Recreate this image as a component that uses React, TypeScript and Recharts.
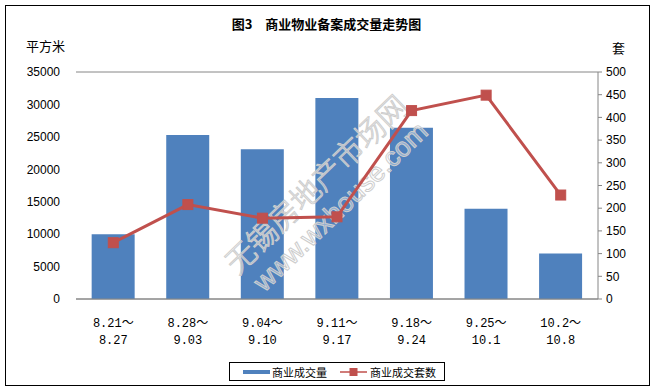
import React from 'react';
import { ComposedChart, Bar, Line, XAxis, YAxis, CartesianGrid } from 'recharts';

const weekStart = ['8.21～', '8.28～', '9.04～', '9.11～', '9.18～', '9.25～', '10.2～'];
const weekEnd = ['8.27', '9.03', '9.10', '9.17', '9.24', '10.1', '10.8'];
const areaValues = [10000, 25300, 23100, 31000, 26400, 13900, 7000];
const unitValues = [124, 208, 178, 181, 415, 449, 229];
const leftTicks = [0, 5000, 10000, 15000, 20000, 25000, 30000, 35000];
const rightTicks = [0, 50, 100, 150, 200, 250, 300, 350, 400, 450, 500];

const data = weekStart.map((s, i) => ({
  idx: i,
  area: areaValues[i],
  units: unitValues[i],
}));

const BLUE = '#4F81BD';
const RED = '#C0504D';
const GRID = '#868686';
const MONO = '"Liberation Mono", "Noto Sans CJK SC", monospace';
const SANS = '"Liberation Sans", Arial, sans-serif';
const CJK = '"Noto Sans CJK SC", sans-serif';

const MARGIN = { top: 72, right: 10, bottom: 30, left: 16 };

const XTick = (props: any) => {
  const { x, y, payload } = props;
  const i = payload.value;
  return (
    <g>
      <text x={x} y={y + 20} textAnchor="middle" fontSize={12} fontFamily={MONO} fill="#000">
        {weekStart[i]}
      </text>
      <text x={x} y={y + 37} textAnchor="middle" fontSize={12} fontFamily={MONO} fill="#000">
        {weekEnd[i]}
      </text>
    </g>
  );
};

const SquareDot = (props: any) => {
  const { cx, cy, index } = props;
  if (cx == null || cy == null) return null;
  return <rect key={index} x={cx - 5} y={cy - 5} width={10} height={10} fill={RED} stroke={RED} />;
};

const LegendBox = () => (
  <div
    style={{
      position: 'absolute',
      left: 229,
      top: 362,
      border: '1px solid #000',
      width: 214,
      height: 17,
      boxSizing: 'content-box',
      display: 'flex',
      alignItems: 'center',
      fontFamily: CJK,
      fontSize: 11,
      color: '#000',
      background: '#fff',
    }}
  >
    <span style={{ display: 'inline-block', width: 27, height: 4, background: BLUE, marginLeft: 13 }} />
    <span style={{ marginLeft: 2 }}>商业成交量</span>
    <svg width={27} height={10} style={{ marginLeft: 13 }}>
      <line x1={0} y1={5} x2={27} y2={5} stroke={RED} strokeWidth={1.5} />
      <rect x={9.5} y={1} width={8} height={8} fill={RED} />
    </svg>
    <span style={{ marginLeft: 3 }}>商业成交套数</span>
  </div>
);

const Watermark = () => (
  <svg
    width={653}
    height={389}
    style={{ position: 'absolute', left: 0, top: 0, pointerEvents: 'none' }}
  >
    <g
      transform="translate(317,185) rotate(-44)"
      fill="rgba(255,255,255,0.35)"
      stroke="#cdcdcd"
      strokeWidth={1}
    >
      <text x={0} y={10} textAnchor="middle" fontSize={30} fontFamily={CJK} fontWeight={300}>
        无锡房地产市场网
      </text>
      <text x={2} y={41} textAnchor="middle" fontSize={27} fontFamily={SANS}>
        www.wxhouse.com
      </text>
    </g>
  </svg>
);

const Layer = ({ showBars }: { showBars: boolean }) => (
  <ComposedChart width={653} height={389} data={data} margin={MARGIN} barCategoryGap="21%">
    {showBars && <CartesianGrid vertical={false} stroke={GRID} strokeWidth={1} />}
    <XAxis
      dataKey="idx"
      tick={showBars ? <XTick /> : false}
      tickLine={false}
      axisLine={showBars ? { stroke: GRID } : false}
      interval={0}
      height={60}
    />
    <YAxis
      yAxisId="left"
      domain={[0, 35000]}
      ticks={leftTicks}
      width={60}
      axisLine={false}
      tickLine={false}
      tickMargin={10}
      tick={showBars ? { fontSize: 12, fontFamily: SANS, fill: '#000' } : false}
      interval={0}
    />
    <YAxis
      yAxisId="right"
      orientation="right"
      domain={[0, 500]}
      ticks={rightTicks}
      width={45}
      axisLine={showBars ? { stroke: GRID } : false}
      tickLine={showBars ? { stroke: GRID } : false}
      tickSize={4}
      tickMargin={4}
      tick={showBars ? { fontSize: 12, fontFamily: SANS, fill: '#000' } : false}
      interval={0}
    />
    <Bar
      yAxisId="left"
      dataKey="area"
      name="商业成交量"
      fill={showBars ? BLUE : 'transparent'}
      isAnimationActive={false}
    />
    <Line
      yAxisId="right"
      dataKey="units"
      name="商业成交套数"
      stroke={showBars ? 'transparent' : RED}
      strokeWidth={3}
      dot={showBars ? false : <SquareDot />}
      activeDot={false}
      isAnimationActive={false}
    />
  </ComposedChart>
);

export default function App() {
  return (
    <div style={{ position: 'absolute', left: 0, top: 0, width: 653, height: 389, background: '#fff' }}>
      <div
        style={{
          position: 'absolute',
          left: 5,
          top: 5,
          width: 643,
          height: 379,
          border: '1px solid #000',
        }}
      />
      <div style={{ position: 'absolute', left: 0, top: 0 }}>
        <Layer showBars={true} />
      </div>
      <Watermark />
      <div style={{ position: 'absolute', left: 0, top: 0 }}>
        <Layer showBars={false} />
      </div>
      <LegendBox />
      <div
        style={{
          position: 'absolute',
          left: 0,
          width: 653,
          top: 14,
          textAlign: 'center',
          fontFamily: CJK,
          fontWeight: 'bold',
          fontSize: 13,
          color: '#000',
        }}
      >
        图3　商业物业备案成交量走势图
      </div>
      <div style={{ position: 'absolute', left: 26, top: 36, fontFamily: CJK, fontSize: 13, color: '#000' }}>
        平方米
      </div>
      <div style={{ position: 'absolute', left: 612, top: 38, fontFamily: CJK, fontSize: 13, color: '#000' }}>
        套
      </div>
    </div>
  );
}
